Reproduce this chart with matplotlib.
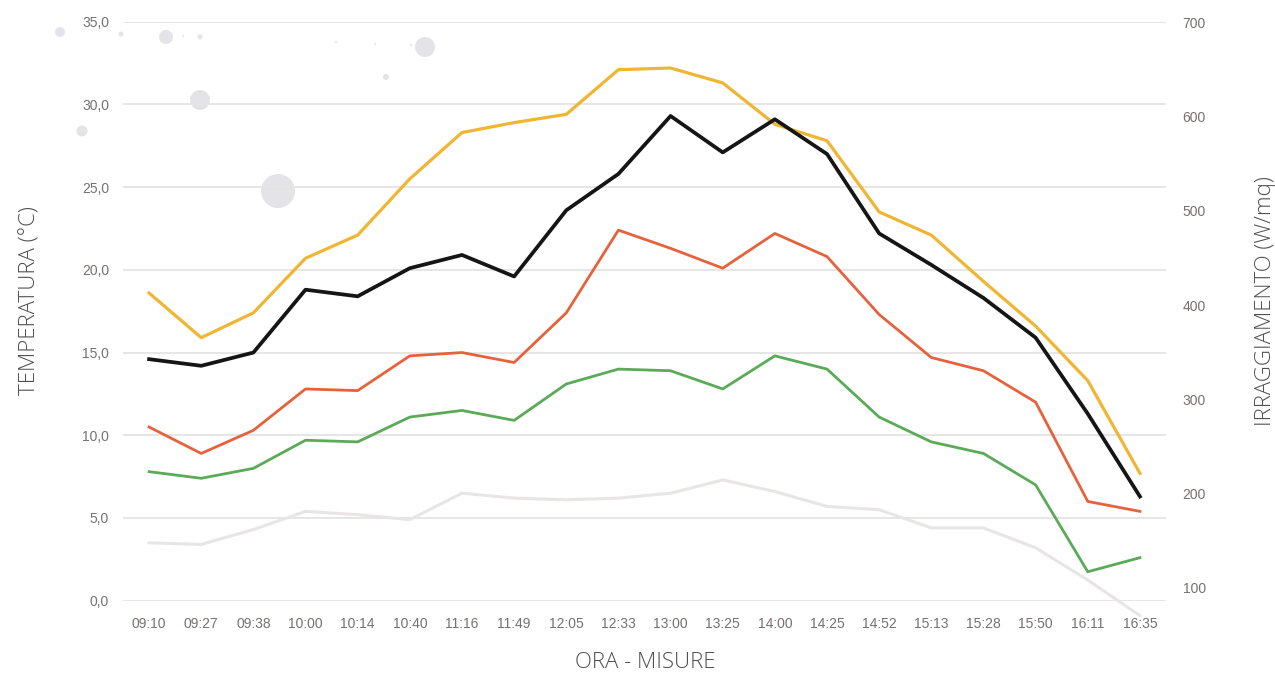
import matplotlib
matplotlib.use("Agg")
import matplotlib.pyplot as plt
from matplotlib.patches import Circle
from matplotlib.ticker import FuncFormatter

# ---- data ----
times = ["09:10", "09:27", "09:38", "10:00", "10:14", "10:40", "11:16", "11:49", "12:05", "12:33",
         "13:00", "13:25", "14:00", "14:25", "14:52", "15:13", "15:28", "15:50", "16:11", "16:35"]
yellow = [18.6, 15.9, 17.4, 20.7, 22.1, 25.5, 28.3, 28.9, 29.4, 32.1,
          32.2, 31.3, 28.8, 27.8, 23.5, 22.1, 19.3, 16.6, 13.3, 7.7]
black = [14.6, 14.2, 15.0, 18.8, 18.4, 20.1, 20.9, 19.6, 23.6, 25.8,
         29.3, 27.1, 29.1, 27.0, 22.2, 20.3, 18.3, 15.9, 11.3, 6.3]
red = [10.5, 8.9, 10.3, 12.8, 12.7, 14.8, 15.0, 14.4, 17.4, 22.4,
       21.3, 20.1, 22.2, 20.8, 17.3, 14.7, 13.9, 12.0, 6.0, 5.4]
green = [7.8, 7.4, 8.0, 9.7, 9.6, 11.1, 11.5, 10.9, 13.1, 14.0,
         13.9, 12.8, 14.8, 14.0, 11.1, 9.6, 8.9, 7.0, 1.75, 2.6]
gray = [3.5, 3.4, 4.3, 5.4, 5.2, 4.9, 6.5, 6.2, 6.1, 6.2,
        6.5, 7.3, 6.6, 5.7, 5.5, 4.4, 4.4, 3.2, 1.25, -0.9]
left_ticks = [0, 5, 10, 15, 20, 25, 30, 35]
right_ticks = [100, 200, 300, 400, 500, 600, 700]

# decorative background bubbles (figure pixels, from top-left, radius)
bubbles = [(60, 32, 5), (121, 34, 2.5), (166, 37, 7), (183, 36, 1), (200, 37, 2.5),
           (336, 42, 1), (375, 44, 1), (411, 45, 1), (425, 47, 10), (386, 77, 3),
           (200, 100, 10), (82, 131, 5.5), (278, 191, 17)]

W, H = 1275, 675
fig = plt.figure(figsize=(W / 100, H / 100), dpi=100)
fig.patch.set_facecolor("white")

for bx, by, br in bubbles:
    fig.add_artist(Circle((bx, H - by), br, transform=None, facecolor="#e3e3e8",
                          edgecolor="none", zorder=0))

left, right = 123 / W, 1166 / W
bottom, top = (H - 600.7) / H, (H - 21.7) / H
ax = fig.add_axes([left, bottom, right - left, top - bottom])
ax.set_facecolor("none")
x = list(range(len(times)))

tick_color = "#7a6f70"
tick_font = ["Liberation Sans", "DejaVu Sans"]

ax.set_xlim(-0.5, len(times) - 0.5)
ax.set_ylim(0, 35)
ax.set_yticks(left_ticks)
ax.yaxis.set_major_formatter(FuncFormatter(lambda v, p: f"{v:.1f}".replace(".", ",")))
ax.set_xticks(x)
ax.set_xticklabels(times)
ax.grid(axis="y", color="#e6e6e6", linewidth=1.4)
ax.set_axisbelow(True)
for s in ax.spines.values():
    s.set_visible(False)
ax.tick_params(axis="both", length=0, labelcolor=tick_color, labelsize=10)
ax.tick_params(axis="y", pad=10)
ax.tick_params(axis="x", pad=12)
for lab in ax.get_xticklabels() + ax.get_yticklabels():
    lab.set_family(tick_font)

ax.plot(x, gray, color="#e8e5e5", linewidth=2.2, clip_on=False, zorder=2,
        solid_joinstyle="round")
ax.plot(x, green, color="#5aaa58", linewidth=2.0, clip_on=False, zorder=3)
ax.plot(x, red, color="#e6623c", linewidth=2.0, clip_on=False, zorder=3)
ax.plot(x, yellow, color="#f0b633", linewidth=2.3, clip_on=False, zorder=4)
ax.plot(x, black, color="#151515", linewidth=2.7, clip_on=False, zorder=5)

ax2 = ax.twinx()
ax2.set_ylim(86.2, 701)
ax2.set_yticks(right_ticks)
for s in ax2.spines.values():
    s.set_visible(False)
ax2.tick_params(axis="y", length=0, labelcolor=tick_color, labelsize=10, pad=12)
for lab in ax2.get_yticklabels():
    lab.set_family(tick_font)

label_kw = dict(family=["Open Sans", "DejaVu Sans"], fontsize=16, fontweight="light",
                color="#4f4f4f")
fig.text(30 / W, 1 - 301 / H, "TEMPERATURA (°C)", rotation=90, ha="center", va="center", **label_kw)
fig.text(1265 / W, 1 - 301 / H, "IRRAGGIAMENTO (W/mq)", rotation=90, ha="center", va="center", **label_kw)
fig.text(645 / W, 1 - 662 / H, "ORA - MISURE", ha="center", va="center", **label_kw)

fig.savefig("out.png", dpi=100, facecolor="white")
